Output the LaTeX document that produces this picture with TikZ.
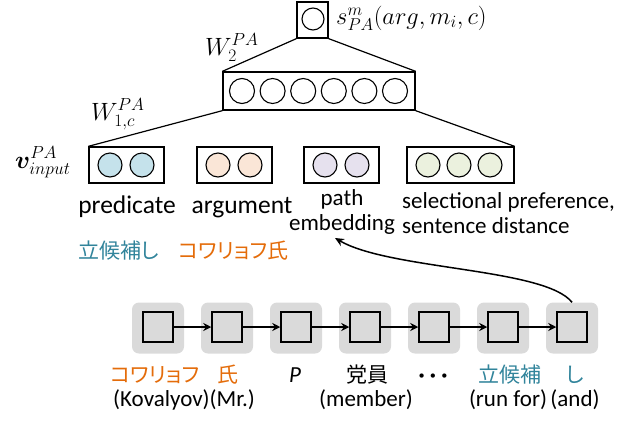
\RequirePackage{fix-cm}
\documentclass[tikz,border=0pt]{standalone}
\usepackage{amsmath,bm}
\usepackage[no-math]{fontspec}
\setmainfont{Carlito}
\newfontfamily\jp[RawFeature=+palt]{Noto Sans CJK JP}
\usetikzlibrary{arrows.meta}

\definecolor{tealtxt}{HTML}{31849B}
\definecolor{orangetxt}{HTML}{E46C0A}
\definecolor{predfill}{HTML}{C5E2EB}
\definecolor{argfill}{HTML}{FAE6D7}
\definecolor{pathfill}{HTML}{E6E1EE}
\definecolor{selfill}{HTML}{EBF1DE}
\definecolor{chaingray}{HTML}{DADADA}

\tikzset{
  layerbox/.style={draw, line width=1.3pt, fill=white, inner sep=0pt, minimum height=36pt},
  unit/.style={circle, draw, line width=1.1pt, minimum size=24pt, inner sep=0pt},
  conn/.style={line width=1.2pt},
  cell/.style={draw, line width=1.5pt, fill=chaingray, minimum size=30pt, inner sep=0pt},
  cellbg/.style={rounded corners=7pt, fill=chaingray, minimum width=52pt, minimum height=51pt, inner sep=0pt},
  link/.style={line width=1.5pt, -{Stealth[length=8pt,width=8pt]}},
  lbl/.style={font=\fontsize{23}{28}\selectfont, anchor=base, inner sep=0pt},
  biglbl/.style={font=\fontsize{25.5}{30}\selectfont, anchor=base, inner sep=0pt},
  jlbl/.style={font=\jp\fontsize{21}{25}\selectfont, anchor=base, inner sep=0pt},
  mathlbl/.style={font=\fontsize{25}{30}\selectfont, anchor=base west, inner sep=0pt},
}

\begin{document}
\begin{tikzpicture}[x=1pt, y=-1pt]
\useasboundingbox (0,0) rectangle (636,421);

% output unit
\node[layerbox, minimum width=31pt] (out) at (312.5,20) {};
\node[unit, minimum size=22pt] (o1) at (313,19) {};
\node[mathlbl, font=\fontsize{24.5}{30}\selectfont] (score) at (336,24) {$s^{m}_{PA}(arg,m_i,c)$};

% hidden layer
\node[layerbox, minimum width=192pt, minimum height=38pt] (hid) at (319,91) {};
\foreach \i in {0,...,5}
  \node[unit, minimum size=25pt] (h\i) at (242+30.6*\i,91) {};

% input groups
\node[layerbox, minimum width=75pt] (pred) at (126.5,165) {};
\node[layerbox, minimum width=75pt] (arg)  at (234.5,165) {};
\node[layerbox, minimum width=75pt] (path) at (341.5,165) {};
\node[layerbox, minimum width=107pt] (sel) at (460.5,165) {};
\node[unit, fill=predfill] (p1) at (110,165) {};
\node[unit, fill=predfill] (p2) at (142,165) {};
\node[unit, fill=argfill] (a1) at (218,165) {};
\node[unit, fill=argfill] (a2) at (250,165) {};
\node[unit, fill=pathfill] (e1) at (325,165) {};
\node[unit, fill=pathfill] (e2) at (357,165) {};
\node[unit, fill=selfill] (s1) at (428,165) {};
\node[unit, fill=selfill] (s2) at (459,165) {};
\node[unit, fill=selfill] (s3) at (490,165) {};

% weight connections
\draw[conn] (out.south west) -- (hid.north west);
\draw[conn] (out.south east) -- (hid.north east);
\draw[conn] (hid.south west) -- (pred.north west);
\draw[conn] (hid.south east) -- (sel.north east);

\node[mathlbl] (w2) at (205,55) {$W_2^{PA}$};
\node[mathlbl] (w1) at (91,120) {$W_{1,c}^{PA}$};
\node[mathlbl] (vin) at (15,168) {$\bm{v}_{input}^{PA}$};

% group labels
\node[biglbl] (tpred) at (127,213) {predicate};
\node[biglbl] (targ) at (242,213) {argument};
\node[lbl] (tpath) at (342,205) {path};
\node[lbl] (temb) at (342,230) {embedding};
\node[lbl, anchor=base west] (tsel1) at (402,208) {selectional preference,};
\node[lbl, anchor=base west] (tsel2) at (402,233) {sentence distance};

\node[jlbl, anchor=base west, text=tealtxt] (jpred) at (78,258) {立候補し};
\node[jlbl, anchor=base west, text=orangetxt] (jarg) at (178,258) {コワリョフ氏};

% word chain
\foreach \i in {1,...,7} {
  \node[cellbg] (g\i) at (158+69*\i-69,328) {};
  \node[cell] (c\i) at (158+69*\i-69,327) {};
}
\foreach \i/\j in {1/2,2/3,3/4,4/5,5/6,6/7}
  \draw[link] (c\i) -- (c\j);

\coordinate (tip) at (335,238);
\draw[line width=1.5pt, -{Stealth[length=9pt,width=8pt]}]
  (g7.north) .. controls (545,268) and (390,270) .. (tip);

% words under the chain
\node[jlbl, text=orangetxt] (w1a) at (155,382) {コワリョフ};
\node[jlbl, text=orangetxt] (w1b) at (228,382) {氏};
\node[lbl] (w3) at (295,382) {\itshape P};
\node[jlbl] (w4) at (367,382) {党員};
\node[lbl] (w5) at (433,382) {\bfseries · · ·};
\node[jlbl, text=tealtxt] (w6) at (510,382) {立候補};
\node[jlbl, text=tealtxt] (w7) at (575,382) {し};

\node[lbl] (g1a) at (184,406) {(Kovalyov)(Mr.)};
\node[lbl] (g4) at (366,406) {(member)};
\node[lbl] (g6) at (508,406) {(run for)};
\node[lbl] (g7l) at (575,406) {(and)};
\end{tikzpicture}
\end{document}
